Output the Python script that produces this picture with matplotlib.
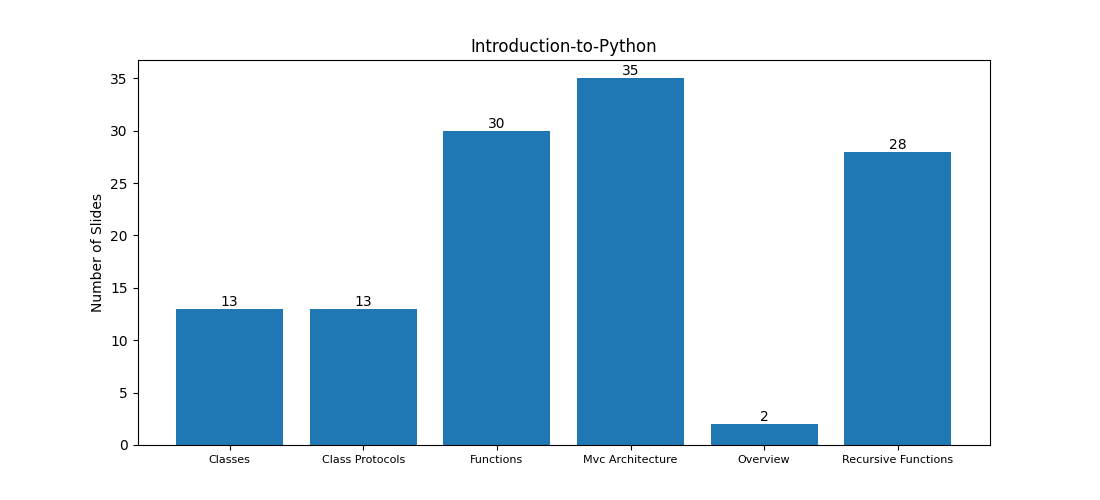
import matplotlib
matplotlib.use('Agg')
from matplotlib import pyplot as plt

topics = ['Classes', 'Class Protocols', 'Functions', 'Mvc Architecture',
          'Overview', 'Recursive Functions']
slides = [13, 13, 30, 35, 2, 28]


def plot():
    fig, ax = plt.subplots(figsize=(11, 5), dpi=100)
    bars = ax.bar(topics, slides)
    ax.bar_label(bars)
    ax.set_title('Introduction-to-Python')
    ax.set_ylabel('Number of Slides')
    ax.tick_params(axis='x', labelsize=8)
    fig.savefig('out.png')


plot()
